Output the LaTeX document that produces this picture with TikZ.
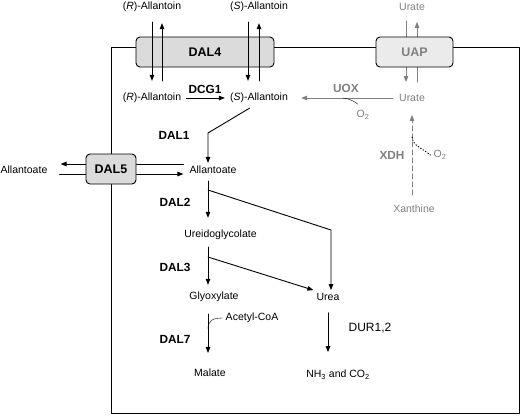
\documentclass[tikz,border=0pt]{standalone}
\usepackage{fontspec}
\setmainfont{Liberation Sans}
\usepackage{tikz}
\usetikzlibrary{arrows.meta}
\definecolor{boxgray}{gray}{0.86}
\definecolor{uapfill}{gray}{0.92}
\definecolor{fadegray}{gray}{0.5}
\tikzstyle{arrow} = [-{Triangle[length=6pt,width=4.5pt]}, line width=0.9pt]
\tikzstyle{metab} = [inner sep=3pt, font=\fontsize{10.5}{12}\selectfont]
\tikzstyle{enzyme} = [inner sep=0pt, font=\fontsize{11.8}{13}\selectfont\bfseries]
\tikzstyle{carrier} = [draw, line width=0.9pt, rounded corners=4pt, fill=boxgray, minimum height=30pt, font=\fontsize{12.5}{14}\selectfont\bfseries]

\begin{document}
\begin{tikzpicture}[x=1pt, y=-1pt, line cap=round, line join=round, >=Triangle]
      \useasboundingbox (0,0) rectangle (521,415);
      % membrane
      \draw[line width=1pt] (111,47) rectangle (519,413);
      % metabolites
      \node[metab] (rout) at (152,7) {(\textit{R})-Allantoin};
      \node[metab] (sout) at (259,7) {(\textit{S})-Allantoin};
      \node[metab, text=fadegray] (urateout) at (412,7) {Urate};
      \node[metab] (rin) at (152,98) {(\textit{R})-Allantoin};
      \node[metab] (sin) at (259,98) {(\textit{S})-Allantoin};
      \node[metab, text=fadegray] (uratein) at (412,98) {Urate};
      \node[metab, text=fadegray] (xanthine) at (414,209) {Xanthine};
      \node[metab] (allout) at (24,170) {Allantoate};
      \node[metab] (allin) at (213,170) {Allantoate};
      \node[metab] (ureido) at (220.5,235) {Ureidoglycolate};
      \node[metab] (glyox) at (214,297) {Glyoxylate};
      \node[metab] (urea) at (328,297) {Urea};
      \node[metab] (malate) at (210,373) {Malate};
      \node[metab] (nh3) at (338,375) {NH\textsubscript{3} and CO\textsubscript{2}};
      \node[metab] (acoa) at (252,318) {Acetyl-CoA};
      \node[metab, text=fadegray] (o2a) at (363,115) {O\textsubscript{2}};
      \node[metab, text=fadegray] (o2b) at (440,155) {O\textsubscript{2}};
      % transport behind UAP and DAL5
      \draw[arrow, fadegray, shorten <=7pt, shorten >=9pt] ([xshift=-6pt]urateout.south) -- ([xshift=-6pt]uratein.north);
      \draw[arrow, fadegray, shorten <=9pt, shorten >=8pt] ([xshift=5pt]uratein.north) -- ([xshift=5pt]urateout.south);
      \draw[arrow, shorten <=3pt, shorten >=10pt] ([yshift=6pt]allin.west) -- ([yshift=6pt]allout.east);
      \draw[arrow, shorten <=9pt, shorten >=3pt] ([yshift=-4pt]allout.east) -- ([yshift=-4pt]allin.west);
      % carriers
      \node[carrier, minimum width=138pt] (dal4) at (205,52) {DAL4};
      \node[carrier, minimum width=77pt, fill=uapfill, text=fadegray] (uap) at (414.5,52) {UAP};
      \node[carrier, minimum width=50pt] (dal5) at (111,169) {DAL5};
      % enzymes
      \node[enzyme] (dcg1) at (205,89) {DCG1};
      \node[enzyme] (dal1) at (174,135) {DAL1};
      \node[enzyme] (dal2) at (175,202) {DAL2};
      \node[enzyme] (dal3) at (175,267) {DAL3};
      \node[enzyme] (dal7) at (175,339) {DAL7};
      \node[enzyme, text=fadegray] (uox) at (346,88) {UOX};
      \node[enzyme, text=fadegray] (xdh) at (392,155) {XDH};
      \node[metab, font=\fontsize{12}{14}\selectfont] (dur) at (370,328) {DUR1,2};
      % transport through DAL4
      \draw[arrow, shorten <=7pt, shorten >=9pt] (rout.south) -- (rin.north);
      \draw[arrow, shorten <=9pt, shorten >=8pt] ([xshift=10pt]rin.north) -- ([xshift=10pt]rout.south);
      \draw[arrow, shorten <=7pt, shorten >=9pt] ([xshift=-11pt]sout.south) -- ([xshift=-11pt]sin.north);
      \draw[arrow, shorten <=9pt, shorten >=8pt] (sin.north) -- (sout.south);
      % pathway
      \coordinate (col) at (208,0);
      \coordinate (k1) at (208,133);
      \coordinate (b2) at (208,190);
      \coordinate (k2) at (331,230);
      \coordinate (b3) at (208,257);
      \coordinate (b7) at (208,329);
      \coordinate (bo1) at (343,98);
      \coordinate (bo2) at (412,137);
      \draw[arrow, shorten <=2pt, shorten >=2pt] (rin.east) -- (sin.west);
      \draw[arrow, fadegray, shorten <=3pt, shorten >=10pt] (uratein.west) -- (sin.east);
      \draw (bo1) .. controls (352,99) and (356,103) .. ([xshift=-5pt, yshift=3pt]o2a.north);
      \draw[arrow, fadegray, dash pattern=on 5pt off 3pt, shorten <=7pt, shorten >=10pt] ([xshift=-2pt]xanthine.north) -- (uratein.south);
      \draw[dotted, line width=0.9pt] (bo2) .. controls (413,146) and (422,148) .. (o2b.west);
      \draw[arrow, shorten <=4pt] ([xshift=-6pt]sin.south) -- (k1) -- (col |- allin.north);
      \draw[arrow, shorten <=4pt, shorten >=9pt] (col |- allin.south) -- (col |- ureido.north);
      \draw[arrow] (b2) -- (k2) -- (k2 |- urea.north);
      \draw[arrow, shorten <=4pt, shorten >=4pt] (col |- ureido.south) -- (col |- glyox.north);
      \draw[arrow] (b3) -- (urea.north west);
      \draw[arrow, shorten <=9pt, shorten >=13pt] (col |- glyox.south) -- (col |- malate.north);
      \draw (b7) .. controls (208,321) and (212,318) .. (acoa.west);
      \draw[arrow, shorten <=9pt, shorten >=15pt] (urea.south) -- (urea.south |- nh3.north);
\end{tikzpicture}
\end{document}
